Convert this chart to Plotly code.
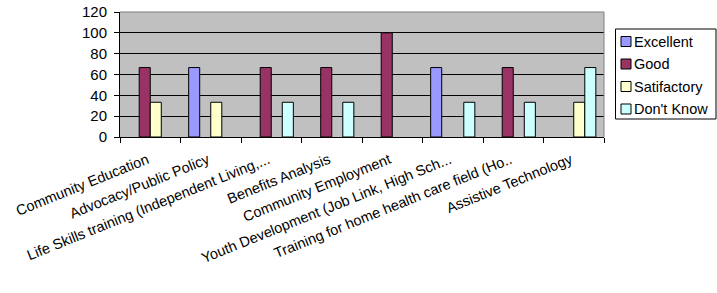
import plotly.graph_objects as go

categories = [
    "Community Education",
    "Advocacy/Public Policy",
    "Life Skills training (Independent Living,...",
    "Benefits Analysis",
    "Community Employment",
    "Youth Development (Job Link, High Sch...",
    "Training for home health care field (Ho..",
    "Assistive Technology",
]
series_names = ["Excellent", "Good", "Satifactory", "Don't Know"]
excellent = [None, 66.67, None, None, None, 66.67, None, None]
good = [66.67, None, 66.67, 66.67, 100, None, 66.67, None]
satisfactory = [33.33, 33.33, None, None, None, None, None, 33.33]
dont_know = [None, None, 33.33, 33.33, None, 33.33, 33.33, 66.67]
y_ticks = [0, 20, 40, 60, 80, 100, 120]

colors = ["#9999FF", "#993366", "#FFFFCC", "#CCFFFF"]
values = [excellent, good, satisfactory, dont_know]

FONT = "Liberation Sans, Arial, sans-serif"

fig = go.Figure()
for name, vals, col in zip(series_names, values, colors):
    fig.add_trace(go.Bar(
        x=categories, y=vals, name=name,
        marker=dict(color=col, line=dict(color="black", width=1)),
        showlegend=False,
    ))

# plot area in pixels
W, H = 717, 293
L, R, T, B = 120, 113, 12, 156
pw, ph = W - L - R, H - T - B

def px_x(x):
    return (x - L) / pw

def px_y(y):
    return (H - B - y) / ph

shapes = [
    dict(type="line", xref="paper", yref="paper", x0=0, x1=1, y0=1, y1=1,
         line=dict(color="#808080", width=1)),
    dict(type="line", xref="paper", yref="paper", x0=1, x1=1, y0=0, y1=1,
         line=dict(color="#808080", width=1)),
    # legend box
    dict(type="rect", xref="paper", yref="paper",
         x0=px_x(615.5), x1=px_x(716), y0=px_y(29), y1=px_y(119),
         line=dict(color="black", width=1), fillcolor="white", layer="above"),
]
annotations = []
row0, step = 41.5, 22.5
for i, (name, col) in enumerate(zip(series_names, colors)):
    cy = row0 + i * step
    shapes.append(dict(type="rect", xref="paper", yref="paper",
                       x0=px_x(621), x1=px_x(631), y0=px_y(cy - 5), y1=px_y(cy + 5),
                       line=dict(color="black", width=1), fillcolor=col, layer="above"))
    annotations.append(dict(xref="paper", yref="paper", x=px_x(632), y=px_y(cy),
                            xanchor="left", yanchor="middle", showarrow=False,
                            text=name, font=dict(family=FONT, size=14.5, color="black")))

fig.update_layout(
    width=W, height=H,
    margin=dict(l=L, r=R, t=T, b=B),
    paper_bgcolor="white",
    plot_bgcolor="#C0C0C0",
    barmode="group",
    bargap=0.27,
    bargroupgap=0,
    font=dict(family=FONT, size=14, color="black"),
    showlegend=False,
    xaxis=dict(
        tickangle=-22,
        automargin=False,
        showline=True, linecolor="black", linewidth=1,
        ticks="outside", ticklen=5, tickcolor="black",
        tickson="boundaries",
        ticklabelstandoff=8,
        ticklabelshift=-3,
        showgrid=False,
        tickfont=dict(family=FONT, size=14.5, color="black"),
    ),
    yaxis=dict(
        range=[0, 120],
        tickvals=y_ticks,
        automargin=False,
        showline=True, linecolor="black", linewidth=1,
        ticks="outside", ticklen=5, tickcolor="black",
        ticklabelstandoff=4,
        showgrid=True, gridcolor="black", gridwidth=1,
        zeroline=False,
        tickfont=dict(family=FONT, size=15, color="black"),
    ),
    shapes=shapes,
    annotations=annotations,
)

fig.write_html(
    "out.html",
    config={"displayModeBar": False},
    post_script="document.body.style.margin='0px';document.body.style.overflow='hidden';",
)
